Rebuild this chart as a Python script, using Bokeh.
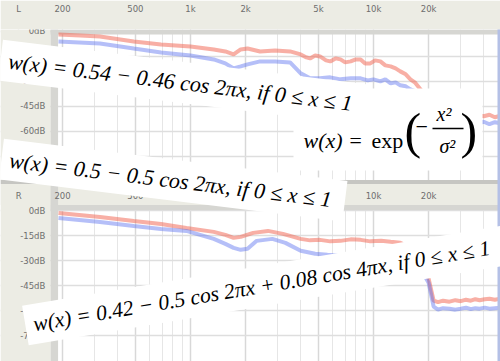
import math
from bokeh.plotting import figure
from bokeh.models import Range1d, FixedTicker, BoxAnnotation, Label
from bokeh.embed import file_html
from bokeh.resources import INLINE

# ---------------- data ----------------
freq_ticks = [115, 200, 500, 1000, 2000, 5000, 10000, 20000]
top_tick_labels = ["L", "200", "500", "1k", "2k", "5k", "10k", "20k"]
bot_tick_labels = ["R", "200", "500", "1k", "2k", "5k", "10k", "20k"]
freq_minor = [200, 300, 400, 500, 600, 700, 800, 900, 1000, 2000, 3000, 4000, 5000,
              6000, 7000, 8000, 9000, 10000, 20000, 30000, 40000]
db_ticks = [0, -15, -30, -45, -60, -75]
db_tick_labels = ["0dB", "-15dB", "-30dB", "-45dB", "-60dB", "-75dB"]

# upper panel (Hamming window)
top_red_f = [190, 250, 320, 490, 690, 1000, 1340, 1550, 1720, 1880, 2050, 2400, 2900, 3500,
             4000, 4300, 4500, 4800, 5100, 5500, 5800, 6200, 6600, 7000, 7500, 8000, 8500,
             9000, 9600, 10200, 10900, 11600, 12400, 13200, 14000, 15000, 15900, 16800,
             17500, 18400, 19200, 20000, 20500, 21500, 22500, 23500, 25000, 27000, 29000,
             31000, 33000, 35000, 37500, 40000, 43000, 46000, 49400]
top_red_db = [-1.8, -2.4, -3.0, -6.0, -7.8, -9.0, -10.8, -12.0, -13.8, -10.8, -10.2, -12.0,
              -11.4, -12.0, -13.8, -15.6, -16.2, -14.4, -15.0, -17.4, -18.0, -16.2, -16.8,
              -18.6, -18.0, -16.8, -16.8, -19.2, -19.2, -17.4, -18.0, -20.4, -21.0, -22.2,
              -24.0, -25.8, -28.8, -30.6, -33.0, -36.0, -39.0, -42.0, -49.8, -51.0, -49.8,
              -51.6, -50.4, -51.6, -50.4, -51.0, -50.1, -51.6, -50.4, -51.0, -50.1, -51.6,
              -50.7]
top_blue_f = [190, 320, 490, 690, 1000, 1340, 1550, 1720, 1880, 2050, 2400, 2900, 3500,
              4000, 4500, 5100, 5800, 6600, 7500, 8500, 9300, 10000, 10900, 11600, 12400,
              13200, 14000, 15000, 15900, 17000, 18000, 19000, 19800, 20500, 21500, 23000,
              24500, 26000, 28000, 30000, 32000, 34500, 37000, 40000, 43000, 46000, 49400]
top_blue_db = [-6.0, -7.2, -10.2, -12.6, -14.4, -16.8, -19.2, -22.2, -21.0, -19.8, -18.0,
               -18.0, -18.6, -25.2, -28.2, -28.2, -27.6, -28.8, -28.2, -28.2, -29.4, -28.8,
               -30.0, -28.8, -31.2, -30.6, -32.4, -33.0, -34.8, -36.0, -37.2, -39.0, -40.8,
               -52.8, -54.6, -54.0, -55.2, -54.0, -55.5, -54.3, -55.8, -54.6, -55.5, -54.3,
               -55.8, -54.6, -55.2]

# lower panel (Blackman window)
bot_red_f = [190, 320, 490, 690, 950, 1340, 1550, 1720, 1880, 2200, 2650, 3200, 4000, 4500,
             5100, 5800, 6600, 7500, 8500, 9600, 11000, 12400, 14000, 15200, 16500, 17800,
             19000, 20000, 21300, 22500, 24000, 26000, 28000, 30000, 32000, 34000, 36000,
             38000, 40500, 43000, 46000, 49400]
bot_red_db = [-1.2, -3.6, -6.0, -7.8, -10.2, -12.6, -14.4, -16.2, -15.6, -13.2, -12.0, -13.8,
              -16.8, -17.7, -17.4, -18.3, -18.0, -17.1, -17.4, -18.3, -18.0, -18.6, -19.2,
              -21.0, -24.0, -30.0, -37.2, -40.8, -54.0, -54.9, -54.0, -54.6, -53.7, -54.3,
              -53.4, -54.0, -53.1, -53.7, -53.1, -52.8, -53.4, -52.8]
bot_blue_f = [190, 320, 490, 690, 950, 1340, 1550, 1720, 1880, 2050, 2300, 2800, 3300, 4000,
              4800, 5600, 6600, 7500, 8500, 9600, 11000, 12400, 14000, 15200, 16500, 17800,
              19000, 20000, 21300, 22500, 24000, 26000, 28000, 30000, 32000, 34000, 36000,
              38000, 40500, 43000, 46000, 49400]
bot_blue_db = [-4.2, -6.6, -9.0, -10.8, -12.0, -16.8, -19.8, -22.2, -23.4, -22.8, -18.0,
               -16.8, -19.2, -24.0, -25.8, -26.4, -27.0, -27.3, -27.6, -27.9, -28.2, -28.8,
               -30.0, -31.2, -33.0, -36.0, -39.0, -43.2, -57.6, -59.4, -58.5, -58.8, -59.4,
               -58.8, -58.2, -59.1, -58.5, -58.8, -58.2, -58.8, -58.5, -58.2]

formula_hamming = "w(x) = 0.54 \u2212 0.46 cos 2\u03c0x,  if 0 \u2264 x \u2264 1"
formula_hann = "w(x) = 0.5 \u2212 0.5 cos 2\u03c0x,  if 0 \u2264 x \u2264 1"
formula_blackman = "w(x) = 0.42 \u2212 0.5 cos 2\u03c0x + 0.08 cos 4\u03c0x,  if 0 \u2264 x \u2264 1"

# ---------------- layout ----------------
W, H = 500, 361
PANEL_OFFSET = -108          # dB shift of the lower screenshot inside the collage
Y0, Y1 = -198.6, 1.2
F0, F1 = 91.6, 49400
COL_EDGE, BAND_EDGE, LABEL_X = 172, 189, 161

BEIGE = "#ecece4"
BAND = "#d6d6d2"
RED = "#f2604c"
BLUE = "#5a72f0"
TICK_COLOR = "#6e6e6e"
SERIF = "Liberation Serif"
SANS = "DejaVu Sans"

p = figure(width=W, height=H, x_axis_type="log", x_axis_location="above",
           x_range=Range1d(F0, F1), y_range=Range1d(Y0, Y1),
           output_backend="svg", toolbar_location=None,
           min_border_left=0, min_border_top=28, min_border_right=0, min_border_bottom=0)
p.extra_y_ranges = {"bottom": Range1d(Y0 - PANEL_OFFSET, Y1 - PANEL_OFFSET)}
p.border_fill_color = BEIGE
p.background_fill_color = "white"
p.outline_line_color = None

xa = p.xaxis[0]
xa.ticker = FixedTicker(ticks=freq_ticks, minor_ticks=freq_minor)
xa.major_label_overrides = {t: l for t, l in zip(freq_ticks, top_tick_labels)}
xa.axis_line_color = None
xa.major_tick_line_color = None
xa.minor_tick_line_color = None
xa.major_label_standoff = 10
xa.major_label_text_font = SANS
xa.major_label_text_font_size = "8.5px"
xa.major_label_text_color = TICK_COLOR

p.yaxis.visible = False
all_db_ticks = db_ticks + [d + PANEL_OFFSET for d in db_ticks]
p.ygrid.ticker = FixedTicker(ticks=all_db_ticks)

p.xgrid.grid_line_color = "#d8d8d8"
p.xgrid.grid_line_width = 1.5
p.xgrid.minor_grid_line_color = "#e6e6e6"
p.ygrid.grid_line_color = "#dedede"
p.ygrid.grid_line_width = 1.5


# panel decoration (screenshot chrome), kept below the glyphs
def box(**kw):
    p.add_layout(BoxAnnotation(fill_alpha=1, line_color=None, level="underlay", **kw))


box(right=COL_EDGE, fill_color=BEIGE)
box(left=COL_EDGE, bottom=-1.8, fill_color=BAND)
box(top=-91.8, bottom=-104.4, fill_color=BEIGE)
box(left=COL_EDGE, top=-104.4, bottom=-107.4, fill_color=BAND)
box(left=COL_EDGE, right=BAND_EDGE, fill_color=BAND)
box(top=-89.4, bottom=-91.8, fill_color="#c6c6c2")

text_kw = dict(text_baseline="middle", text_font_size="8.5px", text_color=TICK_COLOR,
               text_font={"value": SANS})
# lower header tick labels
p.text(x=freq_ticks, y=[9] * len(freq_ticks), text=bot_tick_labels, y_range_name="bottom",
       text_align="center", **text_kw)
# dB labels of both screenshots
p.text(x=[LABEL_X] * len(db_ticks), y=db_ticks, text=db_tick_labels, text_align="right", **text_kw)
p.text(x=[LABEL_X] * len(db_ticks), y=db_ticks, text=db_tick_labels, text_align="right",
       y_range_name="bottom", **text_kw)

# spectra
p.line(top_red_f, top_red_db, line_color=RED, line_alpha=0.5, line_width=4)
p.line(top_blue_f, top_blue_db, line_color=BLUE, line_alpha=0.45, line_width=4)
p.line(bot_red_f, bot_red_db, line_color=RED, line_alpha=0.5, line_width=4, y_range_name="bottom")
p.line(bot_blue_f, bot_blue_db, line_color=BLUE, line_alpha=0.45, line_width=4, y_range_name="bottom")


def lab(text, x, y, size, angle=0.0, bg=None, italic=True, pad=0, color="black",
        font=SERIF, align="left", baseline="middle"):
    kw = {}
    if bg:
        kw = dict(background_fill_color=bg, background_fill_alpha=1.0, padding=pad)
    p.add_layout(Label(x=x, y=y, x_units="canvas", y_units="canvas", text=text,
                       angle=angle, angle_units="deg", text_font=font,
                       text_font_size=f"{size}px", text_font_style="italic" if italic else "normal",
                       text_color=color, text_align=align, text_baseline=baseline, **kw))


def formula(text, bx, by, size, angle, pad=8):
    # (bx, by): start of the text baseline; anchor = middle-left of the padded box
    a = math.radians(angle)
    ux, uy = math.cos(a), -math.sin(a)
    nx, ny = math.sin(a), math.cos(a)
    m = 0.34 * size
    lab(text, bx - pad * ux - m * nx, by - pad * uy - m * ny, size, angle=angle,
        bg="white", pad=pad)


def cbox(l, r, t, b, color="white"):
    p.add_layout(BoxAnnotation(left=l, right=r, top=t, bottom=b,
                               left_units="canvas", right_units="canvas",
                               top_units="canvas", bottom_units="canvas",
                               fill_color=color, fill_alpha=1, line_color=None))


# window edge on the right of the screenshots
cbox(497, 500, 0, 361, color="#b4c0e6")

# Gaussian formula box
cbox(293, 482, 88, 170)
lab("w(x) =", 303, 147 - 0.34 * 22, 22)
lab("exp", 371, 147 - 0.34 * 22, 22, italic=False)
lab("(", 404, 130, 50, italic=False)
lab(")", 460, 130, 50, italic=False)
lab("\u2212", 415, 126, 22, italic=False)
lab("x\u00b2", 436, 120 - 0.34 * 20, 20)
cbox(432, 463, 127.2, 128.8, color="black")
lab("\u03c3\u00b2", 439, 152 - 0.34 * 20, 20)

# window formulas
formula(formula_hamming, 7, 68, 22, -7)
formula(formula_hann, 8, 167, 22, -7)
formula(formula_blackman, 34, 331, 21.6, 9.5)

open("out.html", "w").write(file_html(p, INLINE))
